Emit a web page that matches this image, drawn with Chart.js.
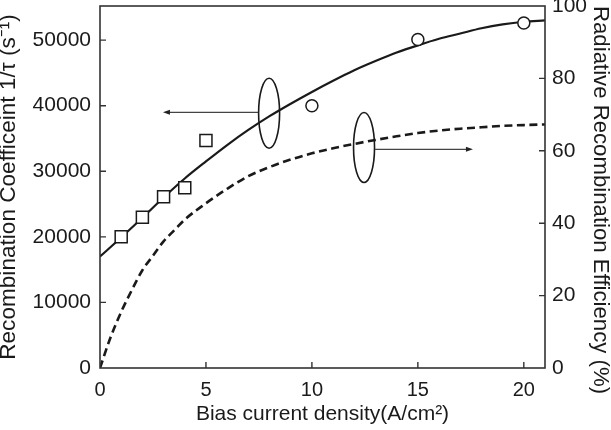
<!DOCTYPE html>
<html>
<head>
<meta charset="utf-8">
<script src="https://cdn.jsdelivr.net/npm/chart.js@4/dist/chart.umd.min.js"></script>
<style>
  html, body { margin: 0; padding: 0; background: #fff; }
  #wrap { width: 611px; height: 430px; }
</style>
</head>
<body>
<div id="wrap"><canvas id="c" width="611" height="430"></canvas></div>
<script>
// ---- data ----
const squareX = [1, 2, 3, 4, 5];
const squareY = [20000, 23000, 26100, 27500, 34700];
const circleX = [10, 15, 20];
const circleY = [40000, 50100, 52600];
const fitX = [0, 1, 2, 3, 4, 5, 6, 7, 8, 9, 10, 11, 12, 13, 14, 15, 16, 17, 18, 19, 20, 21];
const fitY = [17000, 19900, 22900, 26000, 28900, 31500, 34000, 36300, 38400, 40300, 42100, 43800, 45400, 46800, 48100, 49200, 50200, 51000, 51800, 52400, 52800, 53000];
const effX = [0, 0.5, 1, 1.5, 2, 2.5, 3, 3.5, 4, 5, 6, 7, 8, 9, 10, 11, 12, 13, 14, 15, 16, 17, 18, 19, 20, 21];
const effY = [0, 8.5, 15.5, 21.5, 27, 31, 35, 38, 41, 45.5, 49.5, 53, 55.5, 57.6, 59.3, 60.7, 61.9, 63, 64, 64.9, 65.6, 66.1, 66.5, 66.9, 67.1, 67.3];
const xTicks = [0, 5, 10, 15, 20];
const leftTicks = [0, 10000, 20000, 30000, 40000, 50000];
const rightTicks = [0, 20, 40, 60, 80, 100];
// annotation anchors in data units
const ellipseLeft = { x: 7.98, y: 38840, axis: 'y' };
const arrowLeft = { x1: 7.46, x2: 2.97, y: 38990, axis: 'y' };
const ellipseRight = { x: 12.46, y: 60.9, axis: 'y2' };
const arrowRight = { x1: 12.98, x2: 17.6, y: 60.4, axis: 'y2' };

const toPts = (xs, ys) => xs.map((x, i) => ({ x: x, y: ys[i] }));
const INK = '#1a1a1a';
const FONT = "'Liberation Sans', Arial, sans-serif";

const framePlugin = {
  id: 'frame',
  afterDatasetsDraw(chart) {
    const { ctx, chartArea: a, scales } = chart;
    ctx.save();
    // frame
    ctx.strokeStyle = '#333';
    ctx.lineWidth = 1.6;
    ctx.strokeRect(a.left, a.top, a.right - a.left, a.bottom - a.top);
    // inward ticks
    const L = 6;
    ctx.lineWidth = 1.4;
    ctx.beginPath();
    xTicks.forEach(v => { if (v === 0) return; const px = scales.x.getPixelForValue(v); ctx.moveTo(px, a.bottom); ctx.lineTo(px, a.bottom - L); });
    leftTicks.forEach(v => { if (v === 0) return; const py = scales.y.getPixelForValue(v); ctx.moveTo(a.left, py); ctx.lineTo(a.left + L, py); });
    rightTicks.forEach(v => { if (v === 0 || v === 100) return; const py = scales.y2.getPixelForValue(v); ctx.moveTo(a.right, py); ctx.lineTo(a.right - L, py); });
    ctx.stroke();
    // ellipses
    ctx.strokeStyle = INK;
    ctx.lineWidth = 1.6;
    [ellipseLeft, ellipseRight].forEach(e => {
      const cx = scales.x.getPixelForValue(e.x);
      const cy = scales[e.axis].getPixelForValue(e.y);
      ctx.beginPath();
      ctx.ellipse(cx, cy, 10.5, 35, 0, 0, Math.PI * 2);
      ctx.stroke();
    });
    // arrows
    ctx.strokeStyle = '#444';
    ctx.fillStyle = '#222';
    ctx.lineWidth = 1.3;
    [arrowLeft, arrowRight].forEach(r => {
      const x1 = scales.x.getPixelForValue(r.x1);
      const x2 = scales.x.getPixelForValue(r.x2);
      const y = scales[r.axis].getPixelForValue(r.y);
      const dir = Math.sign(x2 - x1);
      ctx.beginPath();
      ctx.moveTo(x1, y);
      ctx.lineTo(x2 - dir * 5, y);
      ctx.stroke();
      ctx.beginPath();
      ctx.moveTo(x2, y);
      ctx.lineTo(x2 - dir * 7, y - 2.5);
      ctx.lineTo(x2 - dir * 7, y + 2.5);
      ctx.closePath();
      ctx.fill();
    });
    ctx.restore();
  }
};

const noPad = s => { s.paddingTop = 0; s.paddingBottom = 0; s.paddingLeft = 0; s.paddingRight = 0; };
const plain = v => String(v);

new Chart(document.getElementById('c'), {
  type: 'scatter',
  data: {
    datasets: [
      { data: toPts(fitX, fitY), yAxisID: 'y', showLine: true, borderColor: INK, borderWidth: 2.2, pointRadius: 0, cubicInterpolationMode: 'monotone', order: 3 },
      { data: toPts(effX, effY), yAxisID: 'y2', showLine: true, borderColor: INK, borderWidth: 2.6, borderDash: [8, 4.5], pointRadius: 0, cubicInterpolationMode: 'monotone', order: 4 },
      { data: toPts(squareX, squareY), yAxisID: 'y', pointStyle: 'rect', pointRadius: 8.5, pointBackgroundColor: '#fff', pointBorderColor: INK, pointBorderWidth: 1.5, order: 1 },
      { data: toPts(circleX, circleY), yAxisID: 'y', pointStyle: 'circle', pointRadius: 6, pointBackgroundColor: '#fff', pointBorderColor: INK, pointBorderWidth: 1.5, order: 2 }
    ]
  },
  options: {
    responsive: false,
    animation: false,
    devicePixelRatio: 1,
    layout: { autoPadding: false, padding: { top: 6, left: 0, right: 0, bottom: 0 } },
    plugins: { legend: { display: false }, tooltip: { enabled: false } },
    scales: {
      x: {
        type: 'linear', min: 0, max: 21,
        grid: { display: false, drawTicks: false },
        border: { display: false },
        afterBuildTicks: s => { s.ticks = xTicks.map(v => ({ value: v })); },
        ticks: { color: INK, font: { family: FONT, size: 20 }, padding: 10, maxRotation: 0, callback: plain },
        title: { display: true, text: 'Bias current density(A/cm²)', color: INK, font: { family: FONT, size: 21, lineHeight: 1 }, padding: { top: 0, bottom: 5 } },
        afterFit: s => { s.height = 62; noPad(s); }
      },
      y: {
        type: 'linear', position: 'left', min: 0, max: 55200,
        grid: { display: false, drawTicks: false },
        border: { display: false },
        afterBuildTicks: s => { s.ticks = leftTicks.map(v => ({ value: v })); },
        ticks: { color: INK, font: { family: FONT, size: 21 }, padding: 9, callback: plain },
        title: { display: true, text: 'Recombination Coefficeint 1/τ (s⁻¹)', color: INK, font: { family: FONT, size: 22.6, lineHeight: 1 }, padding: { top: -2.4, bottom: 0 } },
        afterFit: s => { s.width = 100; noPad(s); }
      },
      y2: {
        type: 'linear', position: 'right', min: 0, max: 100,
        grid: { display: false, drawTicks: false },
        border: { display: false },
        afterBuildTicks: s => { s.ticks = rightTicks.map(v => ({ value: v })); },
        ticks: { color: INK, font: { family: FONT, size: 21 }, padding: 7, callback: plain },
        title: { display: true, align: 'end', text: 'Radiative Recombination Efficiency (%)', color: INK, font: { family: FONT, size: 22.2, lineHeight: 1 }, padding: { top: 0, bottom: 0 } },
        afterFit: s => { s.width = 66; noPad(s); }
      }
    }
  },
  plugins: [framePlugin]
});
</script>
</body>
</html>
